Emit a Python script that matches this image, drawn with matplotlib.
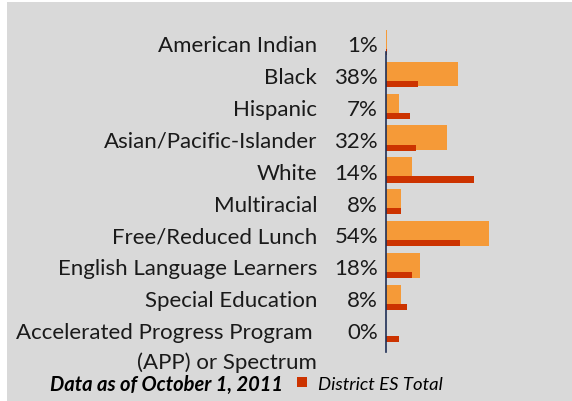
import matplotlib.pyplot as plt
from matplotlib.patches import Patch

categories = ["American Indian", "Black", "Hispanic", "Asian/Pacific-Islander",
              "White", "Multiracial", "Free/Reduced Lunch",
              "English Language Learners", "Special Education",
              "Accelerated Progress Program\n(APP) or Spectrum"]
school = [1, 38, 7, 32, 14, 8, 54, 18, 8, 0]
district = [1, 17, 13, 16, 46, 8, 39, 14, 11, 7]

ORANGE = "#F59A38"
RED = "#CC3300"
BG = "#D9D9D9"
FONT = "Lato"

W, H = 572, 402
fig = plt.figure(figsize=(W / 100, H / 100), dpi=100)
fig.patch.set_facecolor("white")
fig.add_artist(plt.Rectangle((7 / W, 0), 1, 1 - 3 / H, transform=fig.transFigure,
                             facecolor=BG, edgecolor="none", zorder=0))

# axes: left at the value axis, one row = ~32 px
ax_left, ax_w = 385.5, 180
ax_top, ax_bot = 29, 348
ax = fig.add_axes([ax_left / W, (H - ax_bot) / H, ax_w / W, (ax_bot - ax_top) / H])
ax.set_facecolor("none")
ax.set_xlim(0, ax_w / 1.92)
ax.set_ylim(9.5, -0.5)

y = list(range(len(categories)))
ax.barh([i - 0.06 for i in y], school, height=0.77, color=ORANGE, zorder=2)
ax.barh([i + 0.25 for i in y], district, height=0.19, color=RED, zorder=3,
        label="District ES Total")

for s in ["top", "right", "bottom"]:
    ax.spines[s].set_visible(False)
ax.spines["left"].set_color("#1F2F55")
ax.spines["left"].set_linewidth(1.2)
ax.spines["left"].set_bounds(0.25, 9.65)
ax.spines["left"].set_zorder(4)
ax.set_xticks([])
ax.set_yticks([])

fs = 16
for i, (cat, v) in enumerate(zip(categories, school)):
    ax.annotate(f"{v}%", xy=(0, i), xycoords=("axes fraction", "data"),
                xytext=(-5.4, -0.8), textcoords="offset points",
                ha="right", va="center", fontsize=fs, family=FONT, color="#1a1a1a")
    if "\n" in cat:
        l1, l2 = cat.split("\n")
        ax.annotate(l1, xy=(0, i), xycoords=("axes fraction", "data"),
                    xytext=(-52.5, -0.8), textcoords="offset points",
                    ha="right", va="center", fontsize=fs, family=FONT, color="#1a1a1a")
        ax.annotate(l2, xy=(0, i), xycoords=("axes fraction", "data"),
                    xytext=(-49.3, -21.8), textcoords="offset points",
                    ha="right", va="center", fontsize=fs, family=FONT, color="#1a1a1a")
    else:
        ax.annotate(cat, xy=(0, i), xycoords=("axes fraction", "data"),
                    xytext=(-49.3, -0.8), textcoords="offset points",
                    ha="right", va="center", fontsize=fs, family=FONT, color="#1a1a1a")

fig.text(166 / W, 1 - 385 / H, "Data as of October 1, 2011", ha="center", va="center",
         fontsize=14.5, family=FONT, weight="bold", style="italic", color="black")

leg = fig.legend(handles=[Patch(facecolor=RED, label="District ES Total")],
                 loc="center left", bbox_to_anchor=(297 / W, 1 - 385 / H),
                 frameon=False, handlelength=0.55, handleheight=0.45,
                 handletextpad=0.6, borderaxespad=0, borderpad=0,
                 prop={"family": FONT, "style": "italic", "size": 13.3})

fig.savefig("out.png", dpi=100)
